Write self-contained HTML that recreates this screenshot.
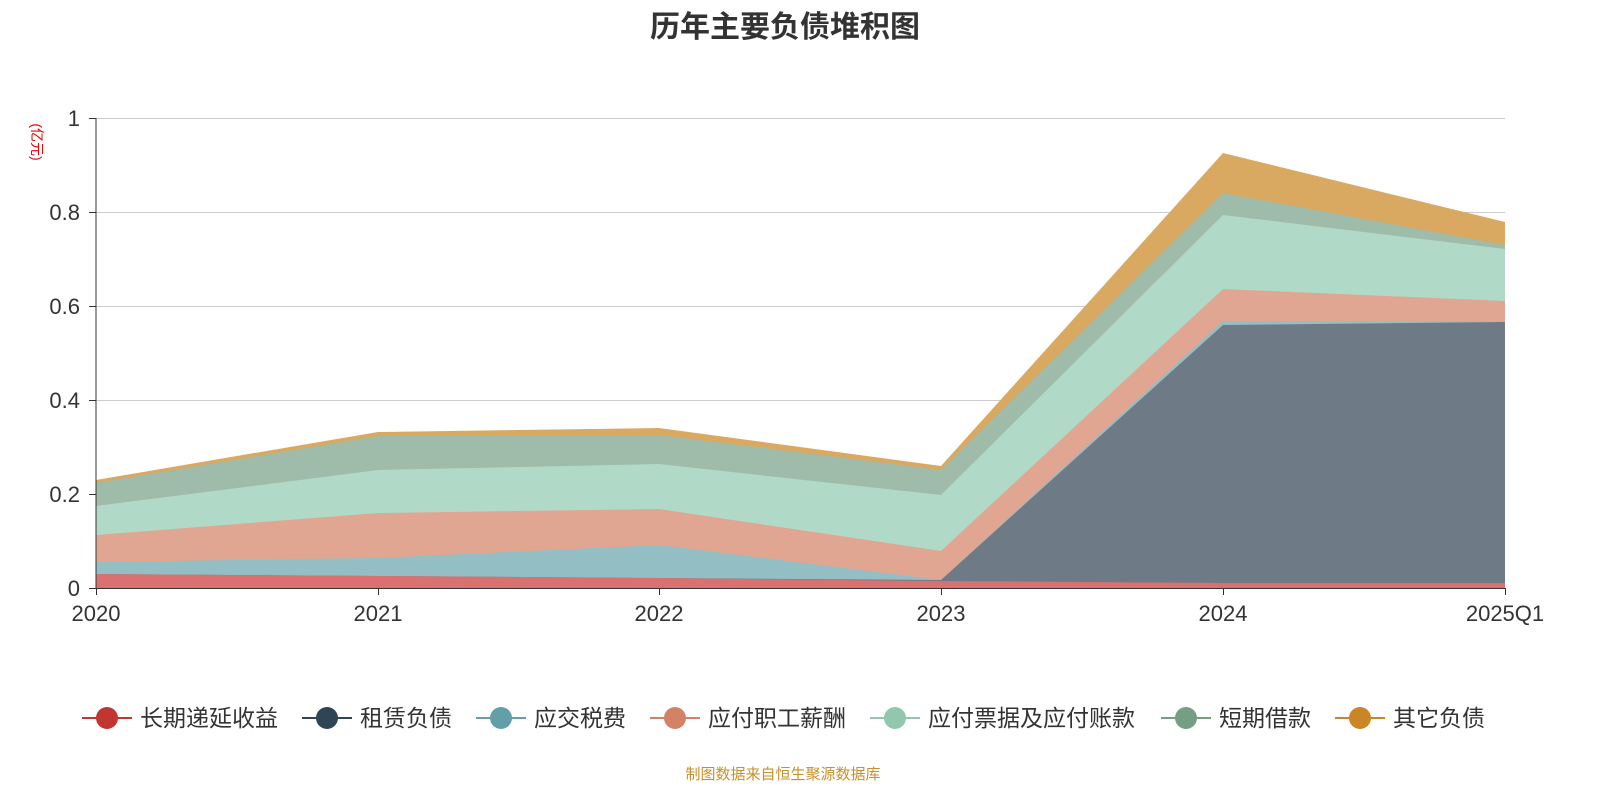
<!DOCTYPE html>
<html><head><meta charset="utf-8"><style>
body{margin:0;background:#fff;width:1600px;height:800px;overflow:hidden}
text{font-family:"Liberation Sans","Noto Sans CJK SC",sans-serif}
</style></head><body>
<svg width="1600" height="800" xmlns="http://www.w3.org/2000/svg">
<text x="785" y="37" text-anchor="middle" font-size="30" font-weight="bold" fill="#333">历年主要负债堆积图</text>
<text x="32" y="142" font-size="14" fill="#e00" transform="rotate(90 32 142)" text-anchor="middle">(亿元)</text>
<g stroke="#ccc" stroke-width="1">
<line x1="96" y1="118.5" x2="1505" y2="118.5"/><line x1="96" y1="212.5" x2="1505" y2="212.5"/>
<line x1="96" y1="306.5" x2="1505" y2="306.5"/><line x1="96" y1="400.5" x2="1505" y2="400.5"/>
<line x1="96" y1="494.5" x2="1505" y2="494.5"/>
</g>
<polygon fill="#d9a962" points="96,480 378,432 659,428 941,466 1223,153 1505,222 1505,588 96,588"/>
<polygon fill="#9fbba9" points="96,483 378,436 659,435 941,470 1223,193 1505,245 1505,588 96,588"/>
<polygon fill="#b1d9c8" points="96,506 378,470 659,464 941,495 1223,215 1505,249 1505,588 96,588"/>
<polygon fill="#e0a692" points="96,535 378,513 659,509 941,551 1223,289 1505,301 1505,588 96,588"/>
<polygon fill="#93bec4" points="96,562 378,558 659,545 941,580 1223,321 1505,321 1505,588 96,588"/>
<polygon fill="#6e7b87" points="96,574 378,576 659,578 941,580 1223,325 1505,322 1505,588 96,588"/>
<polygon fill="#d87170" points="96,574 378,576 659,578 941,581 1223,583 1505,583 1505,588 96,588"/>
<line x1="96" y1="118" x2="96" y2="589" stroke="#333"/>
<line x1="96" y1="588.5" x2="1505" y2="588.5" stroke="#333"/>
<g stroke="#333"><line x1="89" y1="118.5" x2="96" y2="118.5"/><line x1="89" y1="212.5" x2="96" y2="212.5"/><line x1="89" y1="306.5" x2="96" y2="306.5"/><line x1="89" y1="400.5" x2="96" y2="400.5"/><line x1="89" y1="494.5" x2="96" y2="494.5"/><line x1="89" y1="588.5" x2="96" y2="588.5"/>
<line x1="96.5" y1="588" x2="96.5" y2="595"/><line x1="378.5" y1="588" x2="378.5" y2="595"/><line x1="659.5" y1="588" x2="659.5" y2="595"/><line x1="941.5" y1="588" x2="941.5" y2="595"/><line x1="1223.5" y1="588" x2="1223.5" y2="595"/><line x1="1505.5" y1="588" x2="1505.5" y2="595"/></g>
<g font-size="22" fill="#333" text-anchor="end">
<text x="80" y="126">1</text><text x="80" y="220">0.8</text><text x="80" y="314">0.6</text><text x="80" y="408">0.4</text><text x="80" y="502">0.2</text><text x="80" y="596">0</text></g>
<g font-size="22" fill="#333" text-anchor="middle">
<text x="96" y="621">2020</text><text x="378" y="621">2021</text><text x="659" y="621">2022</text><text x="941" y="621">2023</text><text x="1223" y="621">2024</text><text x="1505" y="621">2025Q1</text></g>
<g font-size="23" fill="#333">
<line x1="82" y1="718" x2="132" y2="718" stroke="#c23531" stroke-width="2"/><circle cx="107" cy="718" r="11" fill="#c23531"/><text x="140" y="726">长期递延收益</text>
<line x1="302" y1="718" x2="352" y2="718" stroke="#2f4554" stroke-width="2"/><circle cx="327" cy="718" r="11" fill="#2f4554"/><text x="360" y="726">租赁负债</text>
<line x1="476" y1="718" x2="526" y2="718" stroke="#61a0a8" stroke-width="2"/><circle cx="501" cy="718" r="11" fill="#61a0a8"/><text x="534" y="726">应交税费</text>
<line x1="650" y1="718" x2="700" y2="718" stroke="#d48265" stroke-width="2"/><circle cx="675" cy="718" r="11" fill="#d48265"/><text x="708" y="726">应付职工薪酬</text>
<line x1="870" y1="718" x2="920" y2="718" stroke="#91c7ae" stroke-width="2"/><circle cx="895" cy="718" r="11" fill="#91c7ae"/><text x="928" y="726">应付票据及应付账款</text>
<line x1="1161" y1="718" x2="1211" y2="718" stroke="#749f83" stroke-width="2"/><circle cx="1186" cy="718" r="11" fill="#749f83"/><text x="1219" y="726">短期借款</text>
<line x1="1335" y1="718" x2="1385" y2="718" stroke="#ca8622" stroke-width="2"/><circle cx="1360" cy="718" r="11" fill="#ca8622"/><text x="1393" y="726">其它负债</text>
</g>
<text x="783" y="779" text-anchor="middle" font-size="15" fill="#c8902a">制图数据来自恒生聚源数据库</text>
</svg>
</body></html>
